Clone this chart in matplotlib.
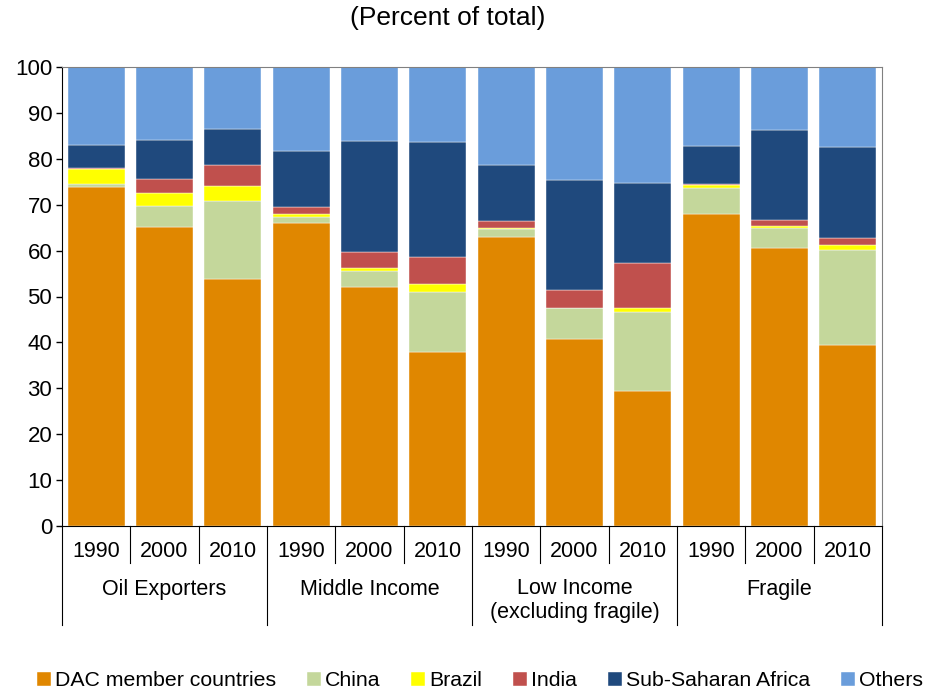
import numpy as np
import matplotlib.pyplot as plt

plt.rcParams['font.family'] = ['Liberation Sans', 'DejaVu Sans']

years = ['1990', '2000', '2010']
groups = ['Oil Exporters', 'Middle Income', 'Low Income\n(excluding fragile)', 'Fragile']

# shares in percent, one value per bar (4 groups x 3 years)
dac = [73.9, 65.2, 53.9, 66.1, 52.0, 38.0, 62.9, 40.7, 29.5, 68.0, 60.5, 39.5]
china = [0.7, 4.6, 16.9, 1.3, 3.6, 12.9, 1.7, 6.7, 17.2, 5.6, 4.5, 20.6]
brazil = [3.1, 2.7, 3.3, 0.6, 0.7, 1.8, 0.4, 0.2, 0.9, 0.7, 0.3, 1.1]
india = [0.4, 3.1, 4.5, 1.6, 3.5, 5.8, 1.4, 3.8, 9.6, 0.2, 1.3, 1.5]
ssa = [4.8, 8.4, 8.0, 12.1, 24.1, 25.1, 12.2, 24.0, 17.6, 8.3, 19.7, 19.8]
others = [17.1, 16.0, 13.4, 18.3, 16.1, 16.4, 21.4, 24.6, 25.2, 17.2, 13.7, 17.5]

series = [
    ('DAC member countries', dac, '#E08700'),
    ('China', china, '#C4D79B'),
    ('Brazil', brazil, '#FFFF00'),
    ('India', india, '#C0504D'),
    ('Sub-Saharan Africa', ssa, '#1F497D'),
    ('Others', others, '#6A9DDB'),
]

fig = plt.figure(figsize=(9.37, 6.9), dpi=100)
ax = fig.add_axes([62 / 937, 164 / 690, 820 / 937, 459 / 690])

x = np.arange(len(dac))
bottom = np.zeros(len(dac))
for name, vals, col in series:
    ax.bar(x, vals, 0.83, bottom=bottom, color=col, label=name,
           edgecolor='white', linewidth=0.3)
    bottom += np.array(vals)

ax.set_xlim(-0.5, len(dac) - 0.5)
ax.set_ylim(0, 100)
ax.set_yticks(np.arange(0, 101, 10))
ax.tick_params(axis='y', labelsize=16, direction='out', length=4, width=1, pad=3)
ax.set_xticks([])

for s in ['top', 'right']:
    ax.spines[s].set_color('#808080')
for s in ['left', 'bottom']:
    ax.spines[s].set_color('black')

# two-level category axis below the plot
trans = ax.get_xaxis_transform()
for i in range(len(dac) + 1):
    xb = i - 0.5
    low = -0.216 if i % 3 == 0 else -0.081
    ax.plot([xb, xb], [0, low], transform=trans, color='black', lw=0.8, clip_on=False)
for i in range(len(dac)):
    ax.text(i, -0.056, years[i % 3], transform=trans, ha='center', va='center', fontsize=15.5)
for g, name in enumerate(groups):
    yy = -0.139 if '\n' not in name else -0.163
    ax.text(3 * g + 1, yy, name, transform=trans, ha='center', va='center',
            fontsize=15.5, linespacing=1.2)

fig.text(448 / 937, 1 - 18 / 690, '(Percent of total)', ha='center', va='center', fontsize=19)

fig.legend(loc='lower center', bbox_to_anchor=(480 / 937, -0.028), ncol=6, frameon=False,
           fontsize=15.3, handlelength=0.65, handleheight=0.65, handletextpad=0.2,
           columnspacing=1.45)

fig.savefig('out.png', dpi=100)
